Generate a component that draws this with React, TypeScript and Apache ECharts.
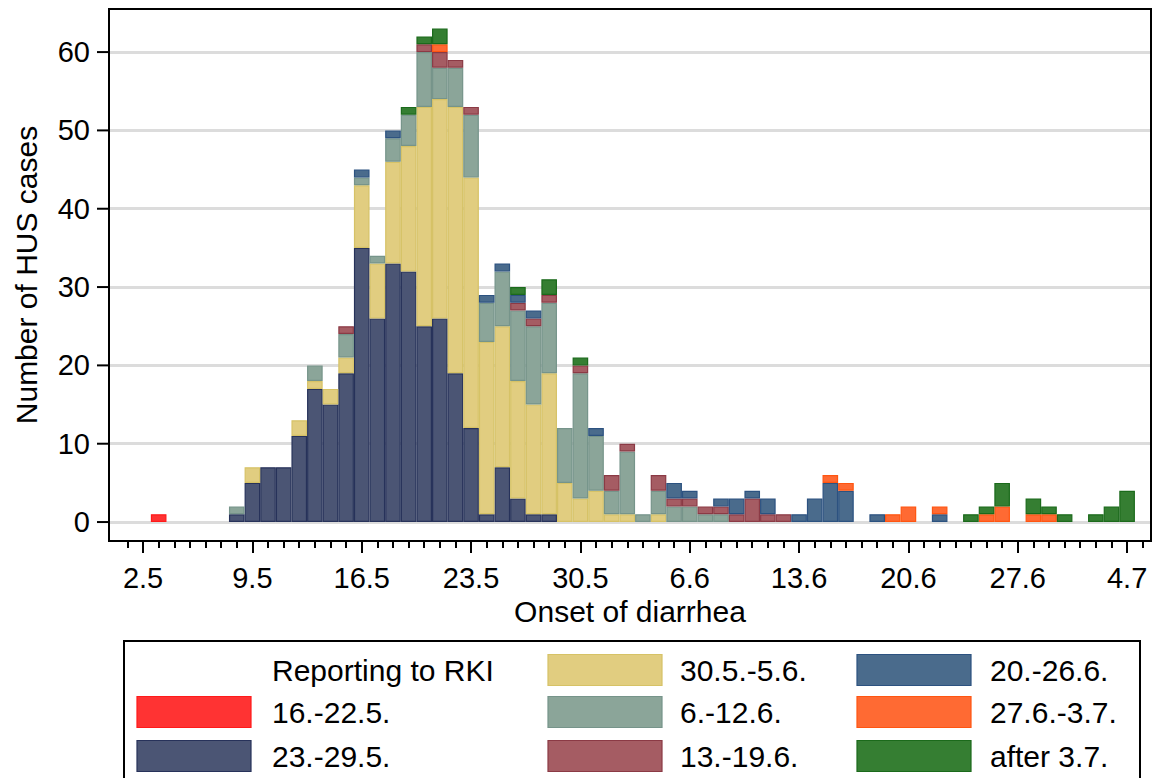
import React, { useEffect, useRef } from "react";
import * as echarts from "echarts";

// Onset-of-diarrhea dates for each daily bar (day 1 = 3 May ... day 63 = 4 July)
const dates = [
  "3.5", "4.5", "5.5", "6.5", "7.5", "8.5", "9.5", "10.5", "11.5", "12.5", "13.5", "14.5", "15.5", "16.5",
  "17.5", "18.5", "19.5", "20.5", "21.5", "22.5", "23.5", "24.5", "25.5", "26.5", "27.5", "28.5", "29.5", "30.5",
  "31.5", "1.6", "2.6", "3.6", "4.6", "5.6", "6.6", "7.6", "8.6", "9.6", "10.6", "11.6", "12.6", "13.6",
  "14.6", "15.6", "16.6", "17.6", "18.6", "19.6", "20.6", "21.6", "22.6", "23.6", "24.6", "25.6", "26.6", "27.6",
  "28.6", "29.6", "30.6", "1.7", "2.7", "3.7", "4.7",
];

// x tick labels, one every 7 days starting at 2 May (day 0)
const tickLabels = ["2.5", "9.5", "16.5", "23.5", "30.5", "6.6", "13.6", "20.6", "27.6", "4.7"];
const yTickValues = [0, 10, 20, 30, 40, 50, 60];

// Cases per onset day (rows of 14 days), split by week of reporting to RKI
const rep16to22May = [
  1, 0, 0, 0, 0, 0, 0, 0, 0, 0, 0, 0, 0, 0,
  0, 0, 0, 0, 0, 0, 0, 0, 0, 0, 0, 0, 0, 0,
  0, 0, 0, 0, 0, 0, 0, 0, 0, 0, 0, 0, 0, 0,
  0, 0, 0, 0, 0, 0, 0, 0, 0, 0, 0, 0, 0, 0,
  0, 0, 0, 0, 0, 0, 0,
];
const rep23to29May = [
  0, 0, 0, 0, 0, 1, 5, 7, 7, 11, 17, 15, 19, 35,
  26, 33, 32, 25, 26, 19, 12, 1, 7, 3, 1, 1, 0, 0,
  0, 0, 0, 0, 0, 0, 0, 0, 0, 0, 0, 0, 0, 0,
  0, 0, 0, 0, 0, 0, 0, 0, 0, 0, 0, 0, 0, 0,
  0, 0, 0, 0, 0, 0, 0,
];
const rep30Mayto5Jun = [
  0, 0, 0, 0, 0, 0, 2, 0, 0, 2, 1, 2, 2, 8,
  7, 13, 16, 28, 28, 34, 32, 22, 18, 15, 14, 18, 5, 3,
  4, 1, 1, 0, 1, 0, 0, 0, 0, 0, 0, 0, 0, 0,
  0, 0, 0, 0, 0, 0, 0, 0, 0, 0, 0, 0, 0, 0,
  0, 0, 0, 0, 0, 0, 0,
];
const rep6to12Jun = [
  0, 0, 0, 0, 0, 1, 0, 0, 0, 0, 2, 0, 3, 1,
  1, 3, 4, 7, 4, 5, 8, 5, 7, 9, 10, 9, 7, 16,
  7, 3, 8, 1, 3, 2, 2, 1, 1, 0, 0, 0, 0, 0,
  0, 0, 0, 0, 0, 0, 0, 0, 0, 0, 0, 0, 0, 0,
  0, 0, 0, 0, 0, 0, 0,
];
const rep13to19Jun = [
  0, 0, 0, 0, 0, 0, 0, 0, 0, 0, 0, 0, 1, 0,
  0, 0, 0, 1, 2, 1, 1, 0, 0, 1, 1, 1, 0, 1,
  0, 2, 1, 0, 2, 1, 1, 1, 1, 1, 3, 1, 1, 0,
  0, 0, 0, 0, 0, 0, 0, 0, 0, 0, 0, 0, 0, 0,
  0, 0, 0, 0, 0, 0, 0,
];
const rep20to26Jun = [
  0, 0, 0, 0, 0, 0, 0, 0, 0, 0, 0, 0, 0, 1,
  0, 1, 0, 0, 0, 0, 0, 1, 1, 1, 1, 0, 0, 0,
  1, 0, 0, 0, 0, 2, 1, 0, 1, 2, 1, 2, 0, 1,
  3, 5, 4, 0, 1, 0, 0, 0, 1, 0, 0, 0, 0, 0,
  0, 0, 0, 0, 0, 0, 0,
];
const rep27Junto3Jul = [
  0, 0, 0, 0, 0, 0, 0, 0, 0, 0, 0, 0, 0, 0,
  0, 0, 0, 0, 1, 0, 0, 0, 0, 0, 0, 0, 0, 0,
  0, 0, 0, 0, 0, 0, 0, 0, 0, 0, 0, 0, 0, 0,
  0, 1, 1, 0, 0, 1, 2, 0, 1, 0, 0, 1, 2, 0,
  1, 1, 0, 0, 0, 0, 0,
];
const repAfter3Jul = [
  0, 0, 0, 0, 0, 0, 0, 0, 0, 0, 0, 0, 0, 0,
  0, 0, 1, 1, 2, 0, 0, 0, 0, 1, 0, 2, 0, 1,
  0, 0, 0, 0, 0, 0, 0, 0, 0, 0, 0, 0, 0, 0,
  0, 0, 0, 0, 0, 0, 0, 0, 0, 0, 1, 1, 3, 0,
  2, 1, 1, 0, 1, 2, 4,
];

const seriesNames = [
  "16.-22.5.", "23.-29.5.", "30.5.-5.6.", "6.-12.6.",
  "13.-19.6.", "20.-26.6.", "27.6.-3.7.", "after 3.7.",
];
const seriesValues = [
  rep16to22May, rep23to29May, rep30Mayto5Jun, rep6to12Jun,
  rep13to19Jun, rep20to26Jun, rep27Junto3Jul, repAfter3Jul,
];
const fills = ["#ff3333", "#4b5574", "#e1cd80", "#8ba599", "#a55c63", "#4a6b8c", "#ff6a33", "#357e32"];
const borders = ["#ff1a1a", "#27325a", "#d6c266", "#76948a", "#8b3a45", "#2c5280", "#ff5511", "#1b6a1b"];

const FONT = "'Liberation Sans', Arial, Helvetica, sans-serif";

// Legend layout: [swatchX, rowCenterY, textX]
const legendSlots: [number, number, number][] = [
  [137, 712, 272], [137, 756, 272],
  [548, 670, 680], [548, 712, 680], [548, 756, 680],
  [857, 670, 990], [857, 712, 990], [857, 756, 990],
];

export default function App() {
  const ref = useRef<HTMLDivElement>(null);

  useEffect(() => {
    if (!ref.current) return;
    const chart = echarts.init(ref.current, null, { renderer: "svg" });

    const majorTicks = tickLabels.map((_, i) => i * 7);
    const minorTicks: number[] = [];
    for (let d = -1; d <= 64; d++) minorTicks.push(d);

    const XMIN = -2.18;
    const XMAX = 64.53;
    const YMIN = -2.42;
    const YMAX = 65.5;

    // value first (dimension 0 = count, stacked), day second (dimension 1 = x)
    const series: any[] = seriesValues.map((vals, si) => ({
      name: seriesNames[si],
      type: "bar",
      stack: "cases",
      xAxisIndex: 0,
      yAxisIndex: 0,
      encode: { x: 1, y: 0 },
      barWidth: "100%",
      clip: false,
      itemStyle: { color: fills[si], borderColor: borders[si], borderWidth: 1.2 },
      emphasis: { disabled: true },
      data: vals.map((v, i) => [v > 0 ? v : null, i + 1]),
    }));

    chart.setOption({
      animation: false,
      backgroundColor: "#fff",
      textStyle: { fontFamily: FONT, color: "#000" },
      grid: { left: 109, right: 5, top: 9, bottom: 237, containLabel: false },
      xAxis: [
        {
          type: "value",
          position: "bottom",
          min: XMIN,
          max: XMAX,
          axisLine: { show: true, onZero: false, lineStyle: { color: "#000", width: 2 } },
          axisTick: { show: true, customValues: majorTicks, length: 12, lineStyle: { color: "#000", width: 2 } },
          axisLabel: {
            customValues: majorTicks,
            formatter: (v: number) => tickLabels[Math.round(v / 7)] ?? "",
            fontSize: 29,
            fontFamily: FONT,
            color: "#000",
            margin: 22,
          },
          splitLine: { show: false },
          name: "Onset of diarrhea",
          nameLocation: "middle",
          nameGap: 41,
          nameTextStyle: { fontSize: 30, fontFamily: FONT, color: "#000" },
        },
        {
          type: "value",
          position: "bottom",
          min: XMIN,
          max: XMAX,
          axisLine: { show: false, onZero: false },
          axisTick: { show: true, customValues: minorTicks, length: 7, lineStyle: { color: "#000", width: 2 } },
          axisLabel: { show: false },
          splitLine: { show: false },
        },
      ],
      yAxis: {
        type: "value",
        position: "left",
        min: YMIN,
        max: YMAX,
        axisLine: { show: false, onZero: false },
        axisTick: { show: false, customValues: yTickValues },
        axisLabel: { customValues: yTickValues, fontSize: 29, fontFamily: FONT, color: "#000", margin: 19 },
        splitLine: { show: true, lineStyle: { color: "#dcdcdc", width: 3 } },
        name: "Number of HUS cases",
        nameLocation: "middle",
        nameGap: 68,
        nameTextStyle: { fontSize: 30, fontFamily: FONT, color: "#000" },
      },
      series,
    });

    const graphics: any[] = [
      {
        type: "rect",
        z: 100,
        shape: { x: 109, y: 9, width: 1042, height: 532 },
        style: { fill: "none", stroke: "#000", lineWidth: 2 },
      },
      {
        type: "rect",
        z: 100,
        shape: { x: 124, y: 641, width: 1016, height: 170 },
        style: { fill: "#fff", stroke: "#000", lineWidth: 2 },
      },
      {
        type: "text",
        z: 101,
        x: 272,
        y: 670,
        style: { text: "Reporting to RKI", font: `30px ${FONT}`, fill: "#000", verticalAlign: "middle" },
      },
    ];

    // y-axis tick marks, positioned through the y axis scale
    yTickValues.forEach((v) => {
      const px = chart.convertToPixel({ gridIndex: 0 }, [XMIN, v]) as number[];
      if (!px) return;
      graphics.push({
        type: "line",
        z: 102,
        shape: { x1: px[0] - 12, y1: px[1], x2: px[0], y2: px[1] },
        style: { stroke: "#000", lineWidth: 2 },
      });
    });

    seriesNames.forEach((name, si) => {
      const [sx, cy, tx] = legendSlots[si];
      graphics.push({
        type: "rect",
        z: 101,
        shape: { x: sx, y: cy - 15.5, width: 114, height: 31 },
        style: { fill: fills[si], stroke: borders[si], lineWidth: 1.2 },
      });
      graphics.push({
        type: "text",
        z: 101,
        x: tx,
        y: cy,
        style: { text: name, font: `30px ${FONT}`, fill: "#000", verticalAlign: "middle" },
      });
    });

    chart.setOption({ graphic: graphics });

    return () => chart.dispose();
  }, []);

  return (
    <div
      ref={ref}
      style={{ position: "fixed", left: 0, top: 0, width: 1156, height: 778, background: "#fff" }}
    />
  );
}
